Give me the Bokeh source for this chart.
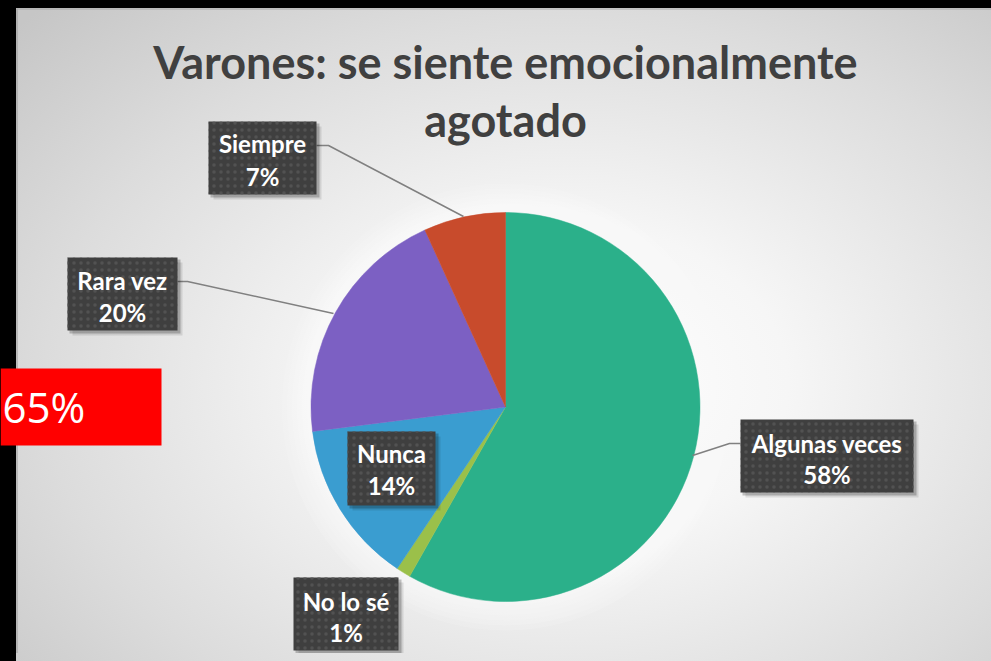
import numpy as np
from bokeh.plotting import figure
from bokeh.models import Range1d, GlobalInlineStyleSheet
from bokeh.core.properties import value
from bokeh.embed import file_html
from bokeh.resources import INLINE

# ---- data ----
categories = ["Algunas veces", "No lo sé", "Nunca", "Rara vez", "Siempre"]
shares = [58.2, 1.2, 13.6, 20.2, 6.8]
slice_colors = ["#2BB08A", "#9BC04A", "#3A9DD0", "#7C60C3", "#C84B2C"]
title_lines = ["Varones: se siente emocionalmente", "agotado"]
highlight_text = "65%"

# ---- layout (page pixel coordinates) ----
FIG_W, FIG_H = 991, 653
def Y(py):
    return FIG_H - py

cx, cy, R = 505, 406.5, 194.5
# label boxes: left, right, top, bottom, line1 y, line2 y
boxes = [
    (740, 913, 419, 492, 443, 474),   # Algunas veces
    (293, 398, 577, 650, 601, 632),   # No lo sé
    (347, 435, 431, 505, 453, 485),   # Nunca
    (67, 177, 257, 330, 280, 312),    # Rara vez
    (208, 316, 121, 194, 143, 176),   # Siempre
]
leaders = [
    ([740, 729, 692], [443, 443, 455]),
    None,
    None,
    ([177, 187, 333], [281, 281, 313]),
    ([316, 328, 463], [145, 145, 216]),
]

css = """
html { height:100%; overflow:hidden;
 background:
  linear-gradient(#000,#000) 0 0 / 100% 8px no-repeat,
  linear-gradient(#000,#000) 0 0 / 16px 100% no-repeat,
  radial-gradient(ellipse 75% 80% at 57% 58%, #ffffff 0%, #f6f6f6 30%, #dcdcdc 70%, #c6c6c6 100%);
}
body { background: transparent; overflow:hidden; }
"""

p = figure(width=FIG_W, height=FIG_H, x_range=Range1d(0, FIG_W), y_range=Range1d(0, FIG_H),
           output_backend="svg", toolbar_location=None, min_border=0,
           x_axis_location=None, y_axis_location=None,
           background_fill_alpha=0, border_fill_alpha=0, outline_line_color=None)
p.grid.visible = False
p.stylesheets = [GlobalInlineStyleSheet(css=css)]

# thin light edges of the slide
p.segment(x0=[16.5], y0=[Y(8)], x1=[16.5], y1=[0], line_color="#9a9a9a", line_width=1)
p.segment(x0=[16], y0=[Y(8.5)], x1=[FIG_W], y1=[Y(8.5)], line_color="#a8a8a8", line_width=1)

# red highlight box
p.quad(left=[0], right=[161], top=[Y(368)], bottom=[Y(445)], fill_color="#FF0000", line_color=None)
p.text(x=[2], y=[Y(406)], text=[highlight_text], text_align="left", text_baseline="middle",
       text_font=value("Open Sans"), text_font_size="42px", text_color="white")

# title
for ty, line in zip([61, 119], title_lines):
    p.text(x=[505], y=[Y(ty)], text=[line], text_align="center", text_baseline="middle",
           text_font=value("Lato"), text_font_style="bold", text_font_size="45px", text_color="#404040")

# pie glow
for k in range(4, 34, 5):
    p.circle(x=[cx], y=[Y(cy)], radius=R + k, fill_color="white", fill_alpha=0.12, line_color=None)

# pie
total = sum(shares)
frac = np.array(shares) / total
cum = np.concatenate([[0.0], np.cumsum(frac)])
start = np.pi / 2 - cum[:-1] * 2 * np.pi
end = np.pi / 2 - cum[1:] * 2 * np.pi
p.wedge(x=cx, y=Y(cy), radius=R, start_angle=start, end_angle=end, direction="clock",
        fill_color=slice_colors, line_color=slice_colors, line_width=0.5)

# leader lines
for ld in leaders:
    if ld is None:
        continue
    xs, ys = ld
    p.line(x=xs, y=[Y(v) for v in ys], line_color="#808080", line_width=1.5)

# label boxes
for (l, r, t, b, y1, y2), cat, s in zip(boxes, categories, shares):
    p.quad(left=[l + 5], right=[r + 5], top=[Y(t + 5)], bottom=[Y(b + 5)], fill_color="black",
           fill_alpha=0.10, line_color=None)
    p.quad(left=[l + 2], right=[r + 3], top=[Y(t + 2)], bottom=[Y(b + 3)], fill_color="black",
           fill_alpha=0.22, line_color=None)
    p.quad(left=[l], right=[r], top=[Y(t)], bottom=[Y(b)], fill_color="#3F3F3F", line_color=None,
           hatch_pattern="dot", hatch_color="#525252", hatch_scale=7, hatch_weight=1)
    xm = (l + r) / 2
    p.text(x=[xm], y=[Y(y1)], text=[cat], text_align="center", text_baseline="middle",
           text_font=value("Lato"), text_font_style="bold", text_font_size="24px", text_color="white")
    p.text(x=[xm], y=[Y(y2)], text=[f"{round(s)}%"], text_align="center", text_baseline="middle",
           text_font=value("Lato"), text_font_style="bold", text_font_size="24px", text_color="white")

open("out.html", "w").write(file_html(p, INLINE))
